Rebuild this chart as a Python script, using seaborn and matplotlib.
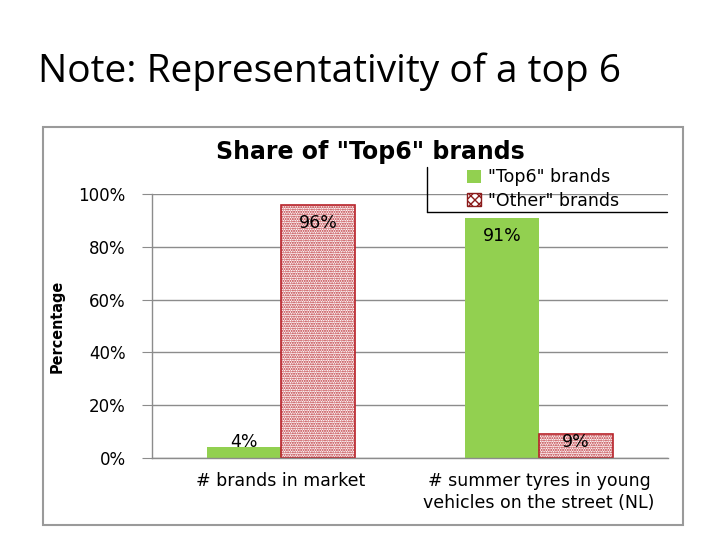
import pandas as pd
import matplotlib.pyplot as plt
import matplotlib.patches as mpatches
from matplotlib.lines import Line2D
import seaborn as sns

# Data
categories = ['# brands in market', '# summer tyres in young\nvehicles on the street (NL)']
top6_share = [0.04, 0.91]
other_share = [0.96, 0.09]
groups = ['"Top6" brands', '"Other" brands']
yticks = [0, 0.2, 0.4, 0.6, 0.8, 1.0]

df = pd.DataFrame({
    'category': categories * 2,
    'share': top6_share + other_share,
    'group': [groups[0]] * 2 + [groups[1]] * 2,
})

sns.set_style('white')
plt.rcParams['font.family'] = ['DejaVu Sans']
plt.rcParams['text.color'] = 'black'
plt.rcParams['xtick.labelcolor'] = 'black'
plt.rcParams['ytick.labelcolor'] = 'black'
plt.rcParams['axes.labelcolor'] = 'black'
plt.rcParams['hatch.linewidth'] = 1.0

green = '#92d050'
red = '#b8232a'

fig = plt.figure(figsize=(7.2, 5.4), dpi=100)
fig.patch.set_facecolor('white')

# slide title
fig.text(38 / 720, 1 - 72 / 540, 'Note: Representativity of a top 6', fontsize=28,
         family='Open Sans', va='center', ha='left', color='black')

# chart frame
fig.patches.append(mpatches.Rectangle((43 / 720, 1 - 525 / 540), 640 / 720, 398 / 540,
                                      transform=fig.transFigure, fill=False,
                                      edgecolor='#9a9a9a', linewidth=1.5))

ax = fig.add_axes([152 / 720, 82 / 540, 516 / 720, 264 / 540])
sns.barplot(data=df, x='category', y='share', hue='group', order=categories,
            hue_order=groups, palette=[green, 'white'], width=0.574,
            saturation=1, ax=ax, legend=False)

for bar in ax.containers[1]:
    bar.set_facecolor('white')
    bar.set_edgecolor(red)
    bar.set_hatch('.......')
    bar.set_linewidth(1.2)
for bar in ax.containers[0]:
    bar.set_edgecolor('none')

# value labels
for cont in ax.containers:
    for bar in cont:
        h = bar.get_height()
        ax.text(bar.get_x() + bar.get_width() / 2, max(h - 0.068, 0.06),
                f'{h * 100:.0f}%', ha='center', va='center', fontsize=12.5)

ax.set_ylim(0, 1)
ax.set_xlim(-0.5, 1.5)
ax.set_yticks(yticks)
ax.set_yticklabels([f'{t * 100:.0f}%' for t in yticks], fontsize=12)
ax.yaxis.grid(True, color='#8c8c8c', linewidth=1)
ax.set_axisbelow(True)
ax.set_xticks([0, 1])
ax.set_xticklabels(categories, fontsize=12.5, linespacing=1.3)
ax.set_xticks([-0.5, 0.5, 1.5], minor=True)
ax.tick_params(axis='x', which='major', length=0, pad=10)
ax.tick_params(axis='x', which='minor', length=7, color='#8c8c8c', direction='out')
ax.tick_params(axis='y', length=7, color='#8c8c8c', direction='out', left=True, pad=12)
ax.set_xlabel('')
ax.set_ylabel('Percentage', fontsize=11.5, fontweight='bold', fontstretch='condensed',
              labelpad=10)
for side in ['top', 'right']:
    ax.spines[side].set_visible(False)
for side in ['left', 'bottom']:
    ax.spines[side].set_color('#8c8c8c')
    ax.spines[side].set_linewidth(1)

# chart title
fig.text(370 / 720, 1 - 152 / 540, 'Share of "Top6" brands', fontsize=17,
         fontweight='bold', ha='center', va='center')

# legend
handles = [mpatches.Patch(facecolor=green, edgecolor='none'),
           mpatches.Patch(facecolor='white', edgecolor='#8b1a1a', hatch='xxxx')]
fig.legend(handles, groups, loc='center left', bbox_to_anchor=(458 / 720, 1 - 189 / 540),
           frameon=False, fontsize=12.5, handlelength=0.8, handleheight=0.8,
           handletextpad=0.4, labelspacing=0.3, borderpad=0)
fig.add_artist(Line2D([427 / 720, 427 / 720], [1 - 167 / 540, 1 - 212 / 540],
                      transform=fig.transFigure, color='black', linewidth=1))
fig.add_artist(Line2D([427 / 720, 667 / 720], [1 - 212 / 540, 1 - 212 / 540],
                      transform=fig.transFigure, color='black', linewidth=1))

fig.savefig('out.png', dpi=100)
